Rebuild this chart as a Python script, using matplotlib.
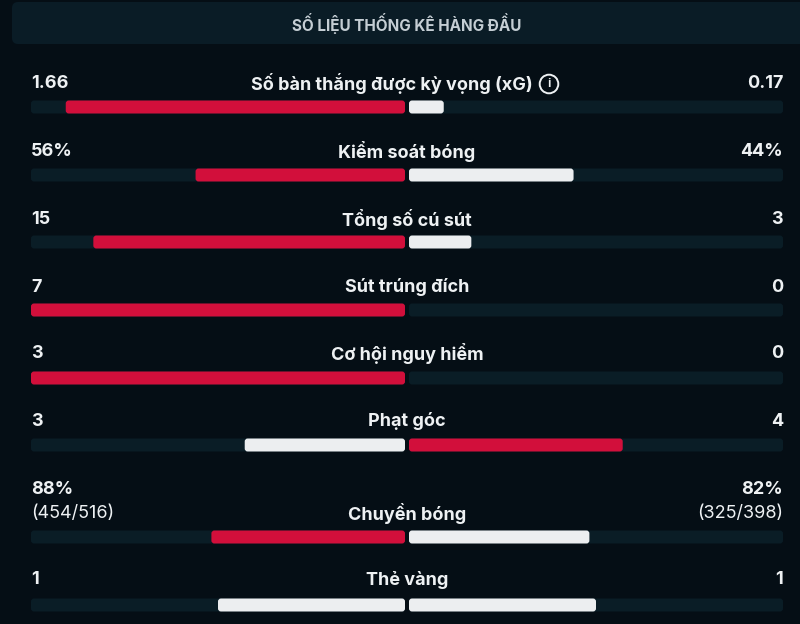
import matplotlib
matplotlib.use("Agg")
import matplotlib.pyplot as plt
from matplotlib.patches import FancyBboxPatch

# stats (home, away) as shown
labels = ["Số bàn thắng được kỳ vọng (xG)", "Kiểm soát bóng", "Tổng số cú sút",
          "Sút trúng đích", "Cơ hội nguy hiểm", "Phạt góc", "Chuyền bóng", "Thẻ vàng"]
home_vals = [1.66, 56, 15, 7, 3, 3, 88, 1]
away_vals = [0.17, 44, 3, 0, 0, 4, 82, 1]
home_txt = ["1.66", "56%", "15", "7", "3", "3", "88%", "1"]
away_txt = ["0.17", "44%", "3", "0", "0", "4", "82%", "1"]
home_sub = ["", "", "", "", "", "", "(454/516)", ""]
away_sub = ["", "", "", "", "", "", "(325/398)", ""]
title = "SỐ LIỆU THỐNG KÊ HÀNG ĐẦU"

BG = "#050e15"
HEAD = "#0a1c26"
TRACK = "#0a1d26"
RED = "#d20f3b"
WHITE = "#eceef0"
TXT = "#eef1f3"

plt.rcParams['font.family'] = ['Inter', 'DejaVu Sans']

fig = plt.figure(figsize=(8, 6.24), dpi=100, facecolor=BG)
ax = fig.add_axes([0, 0, 1, 1])
ax.set_xlim(0, 800)
ax.set_ylim(624, 0)
ax.axis("off")
ax.set_facecolor(BG)

# header band
ax.add_patch(FancyBboxPatch((12, 2), 800, 42, boxstyle="round,pad=0,rounding_size=6",
                            fc=HEAD, ec="none"))
ax.text(407, 24, title, ha="center", va="center", color="#c5ced4",
        fontsize=11, fontweight="bold", fontstretch="condensed")

center = 407
half = 376
left_edge = center - half
right_edge = center + half
gap = 2
bh = 13
fs = 13

label_y = [84, 152, 219, 287, 354, 421, 514, 580]
bar_y = [107, 175, 242, 310, 378, 445, 537, 605]

def rbar(x0, w, y, color):
    if w <= 0:
        return
    ax.add_patch(FancyBboxPatch((x0, y - bh / 2), w, bh,
                                boxstyle="round,pad=0,rounding_size=3",
                                fc=color, ec="none", mutation_aspect=1))

for i in range(len(labels)):
    h, a = home_vals[i], away_vals[i]
    tot = h + a
    hw = (half - gap) * h / tot if tot else 0
    aw = (half - gap) * a / tot if tot else 0
    if h > a:
        hc, ac = RED, WHITE
    elif a > h:
        hc, ac = WHITE, RED
    else:
        hc, ac = WHITE, WHITE
    y = bar_y[i]
    # tracks
    rbar(left_edge, half - gap, y, TRACK)
    rbar(center + gap, half - gap, y, TRACK)
    rbar(center - gap - hw, hw, y, hc)
    rbar(center + gap, aw, y, ac)

    ly = label_y[i]
    lx = center - 15 if i == 0 else center
    ax.text(lx, ly, labels[i], ha="center", va="center", color=TXT,
            fontsize=fs, fontweight="bold")
    if home_sub[i]:
        ax.text(left_edge, ly - 24, home_txt[i], ha="left", va="center", color=TXT,
                fontsize=fs, fontweight="bold")
        ax.text(left_edge, ly, home_sub[i], ha="left", va="center", color=TXT,
                fontsize=fs)
        ax.text(right_edge, ly - 24, away_txt[i], ha="right", va="center", color=TXT,
                fontsize=fs, fontweight="bold")
        ax.text(right_edge, ly, away_sub[i], ha="right", va="center", color=TXT,
                fontsize=fs)
    else:
        ax.text(left_edge, ly, home_txt[i], ha="left", va="center", color=TXT,
                fontsize=fs, fontweight="bold")
        ax.text(right_edge, ly, away_txt[i], ha="right", va="center", color=TXT,
                fontsize=fs, fontweight="bold")

# info icon next to xG label
ax.text(549, 84, "i", ha="center", va="center", color=TXT, fontsize=9.5,
        fontweight="semibold",
        bbox=dict(boxstyle="circle,pad=0.25", fc="none", ec=TXT, lw=1.4))

fig.savefig("out.png", dpi=100, facecolor=BG)
